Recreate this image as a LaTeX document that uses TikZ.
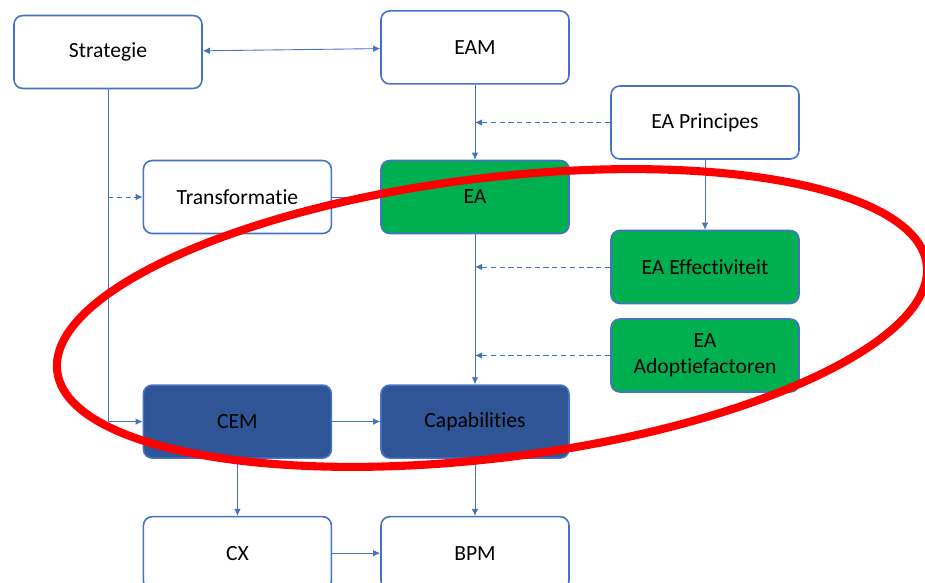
\documentclass[tikz,border=0pt]{standalone}
\usepackage{fontspec}
\setmainfont{Carlito}[Ligatures={NoCommon}]
\usepackage{xcolor}
\usepackage{tikz}
\usetikzlibrary{positioning, arrows.meta}
\definecolor{lijnblauw}{HTML}{4472C4}
\definecolor{eagroen}{HTML}{00B050}
\definecolor{capblauw}{HTML}{2F5597}

\begin{document}
\begin{tikzpicture}[
		blok/.style={
			rectangle,
			rounded corners=5pt,
			draw=lijnblauw,
			line width=0.9pt,
			fill=white,
			minimum width=3.76cm,
			minimum height=1.46cm,
			inner sep=1pt,
			align=center,
			font=\fontsize{12.3}{14.8}\selectfont
		},
		groen/.style={
			blok,
			fill=eagroen
		},
		donker/.style={
			blok,
			fill=capblauw
		},
		pijl/.style={
			-{Latex[length=1.4mm,width=1.3mm]},
			line width=0.5pt,
			lijnblauw
		},
		stippel/.style={
			pijl,
			densely dashed
		}
		]
		\useasboundingbox (0,0) rectangle (18.5,-11.66);
		% Nodes
		\node[groen] at (9.5,-3.94) (ea) {EA};
		\node[blok, left=0.96cm of ea] (trans) {Transformatie};
		\node[blok, above=1.5cm of ea] (eam) {EAM};
		\node[blok] at (2.16,-1.04) (strat) {Strategie};
		\node[donker, below=3cm of ea] (cap) {Capabilities};
		\node[donker, left=0.96cm of cap] (cem) {CEM};
		\node[blok, below=1.14cm of cap] (bpm) {BPM};
		\node[blok, left=0.96cm of bpm] (cx) {CX};
		\node[blok] at (14.1,-2.45) (princ) {EA Principes};
		\node[groen] at (14.1,-5.34) (effect) {EA Effectiviteit};
		\node[groen] at (14.1,-7.11) (adopt) {EA\\Adoptiefactoren};
		% Coordinates
		\coordinate (hoek) at (strat.south |- cem.west);
		\coordinate (aftak) at (strat.south |- trans.west);
		\coordinate (p1) at (eam.south |- princ.west);
		\coordinate (p2) at (eam.south |- effect.west);
		\coordinate (p3) at (eam.south |- adopt.west);
		% Arrows
		\draw[pijl, {Latex[length=1.4mm,width=1.3mm]}-{Latex[length=1.4mm,width=1.3mm]}] (strat) -- (eam);
		\draw[pijl] (strat.south) -- (hoek) -- (cem.west);
		\draw[stippel] (aftak) -- (trans.west);
		\draw[pijl] (eam) -- (ea);
		\draw[stippel] (princ.west) -- (p1);
		\draw[pijl] (princ) -- (effect);
		\draw[pijl, -] (trans) -- (ea);
		\draw[pijl] (ea) -- (cap);
		\draw[stippel] (effect.west) -- (p2);
		\draw[stippel] (adopt.west) -- (p3);
		\draw[pijl] (cem) -- (cap);
		\draw[pijl] (cem) -- (cx);
		\draw[pijl] (cap) -- (bpm);
		\draw[pijl] (cx) -- (bpm);
		% Ellipse
		\draw[red, line width=4.6pt, rotate around={7:(9.84,-6.36)}]
		(9.84,-6.36) ellipse (8.76 and 2.8);
	\end{tikzpicture}
\end{document}
